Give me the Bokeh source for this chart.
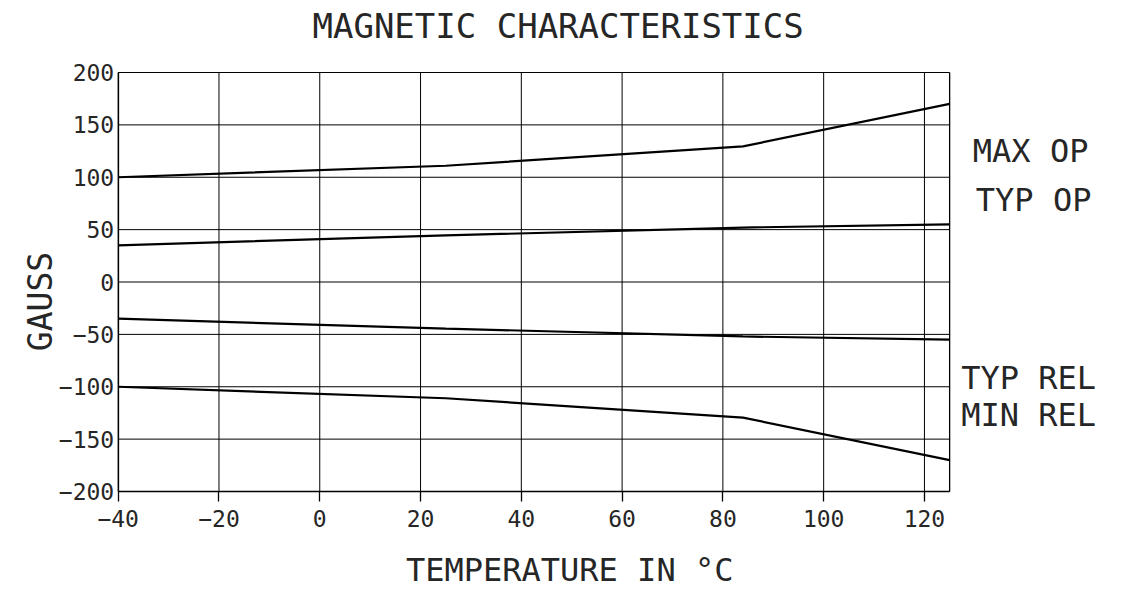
import numpy as np
from bokeh.plotting import figure
from bokeh.models import Range1d, FixedTicker, Label, LinearAxis
from bokeh.embed import file_html
from bokeh.resources import INLINE

# ---- data ----
temps = [-40, 25, 84, 125]
max_op = [100, 111, 129.5, 170]
typ_op = [35, 44.5, 52, 55]
typ_rel = [-35, -44.5, -52, -55]
min_rel = [-100, -111, -129.5, -170]

x_bounds = [-40, 125]
y_bounds = [-200, 200]
x_ticks = [-40, -20, 0, 20, 40, 60, 80, 100, 120]
y_ticks = [-200, -150, -100, -50, 0, 50, 100, 150, 200]

title_text = "MAGNETIC CHARACTERISTICS"
x_label = "TEMPERATURE IN °C"
y_label = "GAUSS"
series_names = ["MAX OP", "TYP OP", "TYP REL", "MIN REL"]

FONT = "DejaVu Sans Mono"
INK = "#262626"

W, H = 1120, 590
# plot box placement on the canvas (pixels)
BOX_L, BOX_T = 117.7, 72.0
PX_PER_X, PX_PER_Y = 5.039, 1.0475
xr = Range1d(x_bounds[0] - BOX_L / PX_PER_X, x_bounds[0] + (W - BOX_L) / PX_PER_X)
yr = Range1d(y_bounds[1] - (H - BOX_T) / PX_PER_Y, y_bounds[1] + BOX_T / PX_PER_Y)

p = figure(width=W, height=H, output_backend="svg", toolbar_location=None,
           x_range=xr, y_range=yr, x_axis_location=None, y_axis_location=None,
           min_border=0)
p.background_fill_color = "white"
p.border_fill_color = "white"
p.outline_line_color = None
p.xgrid.visible = False
p.ygrid.visible = False

# grid lines and box
p.segment(x0=x_ticks, x1=x_ticks, y0=[y_bounds[0]] * len(x_ticks), y1=[y_bounds[1]] * len(x_ticks),
          line_color="black", line_width=1)
p.segment(x0=[x_bounds[0]] * len(y_ticks), x1=[x_bounds[1]] * len(y_ticks), y0=y_ticks, y1=y_ticks,
          line_color="black", line_width=1)
p.segment(x0=[x_bounds[1]], x1=[x_bounds[1]], y0=[y_bounds[0]], y1=[y_bounds[1]],
          line_color="black", line_width=1.3)

# axes fixed on the box edges
xax = LinearAxis(fixed_location=y_bounds[0], bounds=tuple(x_bounds), ticker=FixedTicker(ticks=x_ticks))
yax = LinearAxis(fixed_location=x_bounds[0], bounds=tuple(y_bounds), ticker=FixedTicker(ticks=y_ticks))
for ax in (xax, yax):
    ax.axis_line_color = "black"
    ax.axis_line_width = 1.3
    ax.minor_tick_line_color = None
    ax.major_label_text_font = FONT
    ax.major_label_text_font_size = "23px"
    ax.major_label_text_color = INK
    ax.major_tick_line_color = "black"
    ax.major_tick_line_width = 1.3
    ax.major_tick_in = 0
xax.major_tick_out = 10
xax.major_label_standoff = 8
yax.major_tick_out = 0
yax.major_label_standoff = 4
p.add_layout(xax, "below")
p.add_layout(yax, "left")

# series
for ys in (max_op, typ_op, typ_rel, min_rel):
    p.line(temps, ys, line_color="black", line_width=2.2)

# texts
def add_label(x, y, text, size, align="left", angle=0.0):
    p.add_layout(Label(x=x, y=y, text=text, text_font=FONT, text_font_size=size,
                       text_color=INK, text_align=align, text_baseline="alphabetic",
                       angle=angle))

add_label(47.3, 244.0, title_text, "34px", "center")
add_label(49.6, -275.0, x_label, "32px", "center")
add_label(-55.4, -18.6, y_label, "33px", "center", np.pi / 2)
add_label(129.6, 124.8, series_names[0], "32px")
add_label(130.2, 78.0, series_names[1], "32px")
add_label(127.3, -91.9, series_names[2], "32px")
add_label(127.3, -127.3, series_names[3], "32px")

open("out.html", "w").write(file_html(p, INLINE))
